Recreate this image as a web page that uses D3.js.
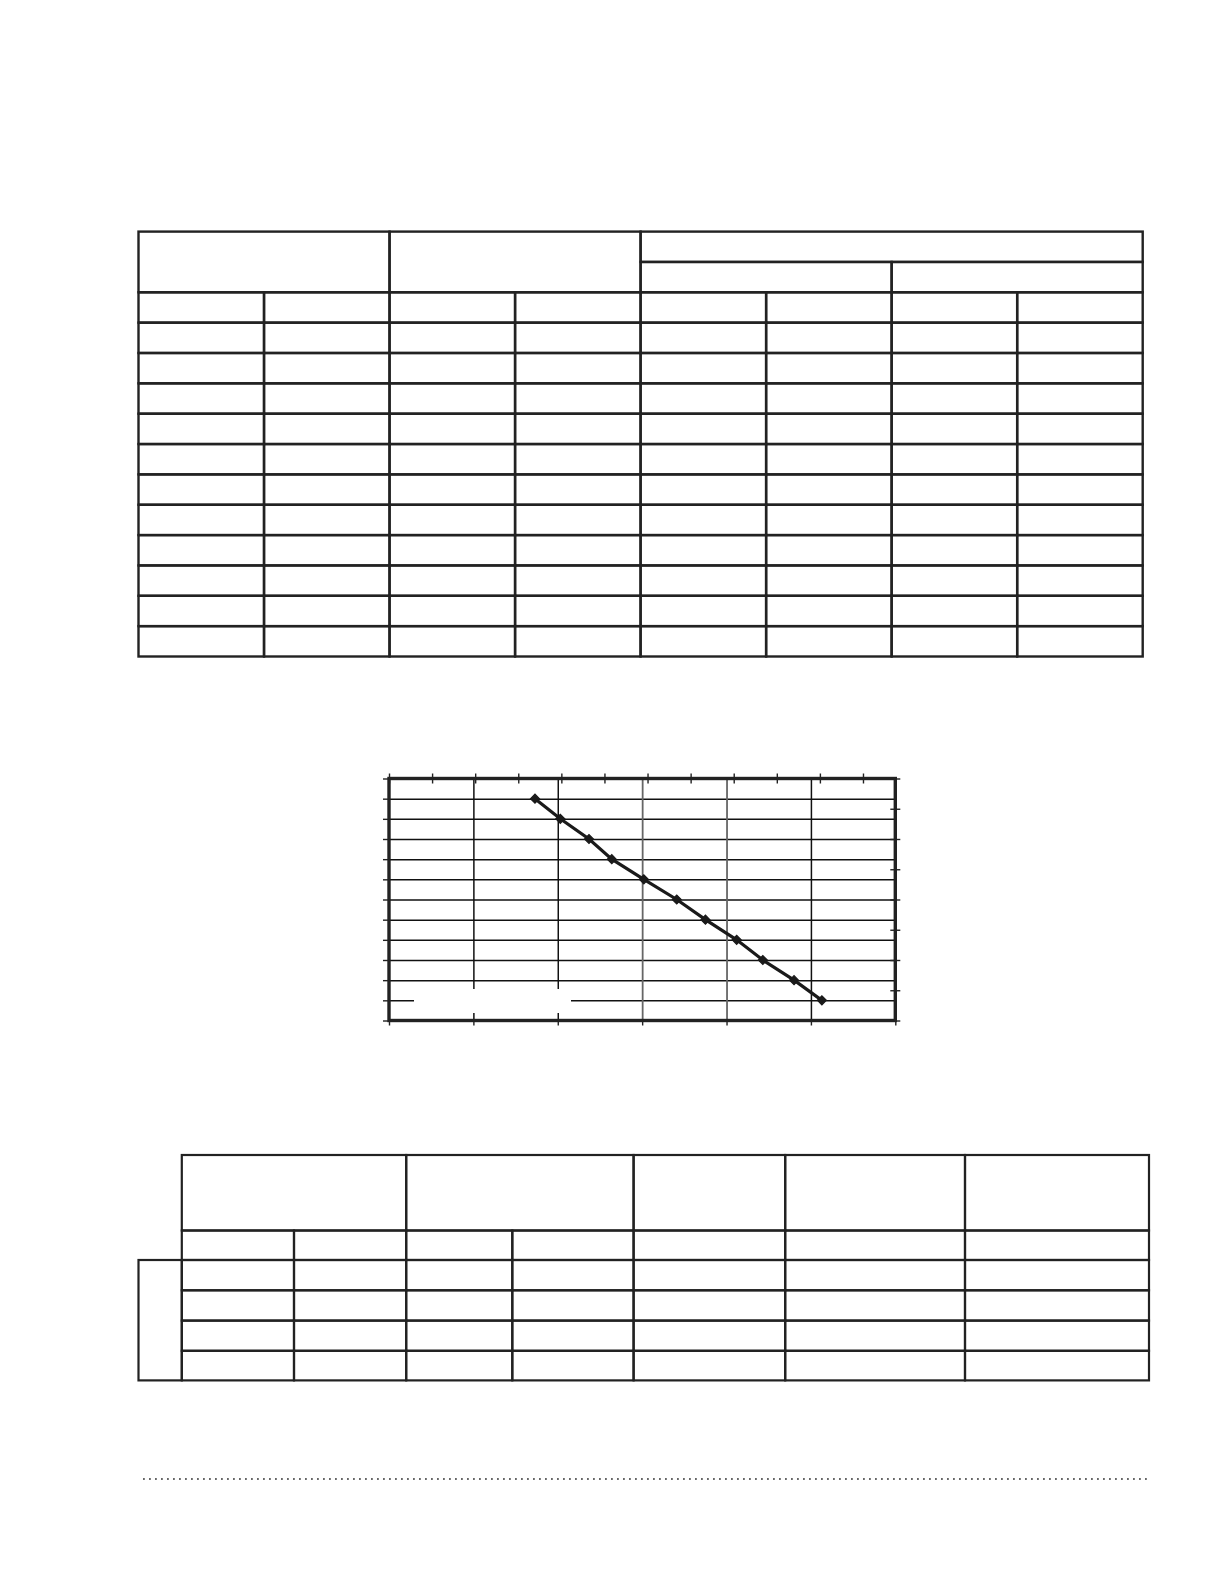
<!DOCTYPE html>
<html lang="en">
<head>
<meta charset="utf-8">
<title>Blank form with chart</title>
<script src="https://d3js.org/d3.v7.min.js"></script>
<style type="text/css">
  html, body { margin: 0; padding: 0; background: #fff; }
  svg { display: block; }
  .tick text { display: none; }
</style>
</head>
<body>
<script type="text/javascript">
// chart values
var xVals = [1.73, 2.03, 2.37, 2.64, 3.02, 3.41, 3.75, 4.12, 4.43, 4.80, 5.13];
var yVals = [11, 10, 9, 8, 7, 6, 5, 4, 3, 2, 1];

// tick values
var bottomTicks = [0, 1, 2, 3, 4, 5, 6];
var leftTicks = [0, 1, 2, 3, 4, 5, 6, 7, 8, 9, 10, 11, 12];
var topTicks = [0, 1, 2, 3, 4, 5, 6, 7, 8, 9, 10, 11];
var rightTicks = [0, 1, 2, 3, 4, 5, 6, 7, 8];
var vGrid = [1, 2, 3, 4, 5];
var vGridGray = [3, 4];
var hGrid = [1, 2, 3, 4, 5, 6, 7, 8, 9, 10, 11];

var w = 1224, h = 1584;
var ink = "#222";

var svg = d3.select("body").append("svg")
  .attr("width", w).attr("height", h);
svg.append("rect").attr("width", w).attr("height", h).attr("fill", "#fff");

// ---------- top table ----------
var t1 = {left: 138.5, right: 1142.7, top: 231.6, bottom: 656.5, cols: 8, rows: 14};
var c1 = d3.scaleLinear([0, t1.cols], [t1.left, t1.right]);
var r1 = d3.scaleLinear([0, t1.rows], [t1.top, t1.bottom]);

var cells1 = [
  {c: 0, r: 0, cs: 2, rs: 2}, {c: 2, r: 0, cs: 2, rs: 2},
  {c: 4, r: 0, cs: 4, rs: 1}, {c: 4, r: 1, cs: 2, rs: 1}, {c: 6, r: 1, cs: 2, rs: 1}
];
d3.range(2, t1.rows).forEach(function(r) {
  d3.range(0, t1.cols).forEach(function(c) { cells1.push({c: c, r: r, cs: 1, rs: 1}); });
});

svg.append("g").selectAll("rect")
  .data(cells1).enter().append("rect")
  .attr("x", function(d) { return c1(d.c); })
  .attr("y", function(d) { return r1(d.r); })
  .attr("width", function(d) { return c1(d.c + d.cs) - c1(d.c); })
  .attr("height", function(d) { return r1(d.r + d.rs) - r1(d.r); })
  .attr("fill", "none").attr("stroke", ink).attr("stroke-width", 2.4);

// ---------- chart ----------
var p = {left: 389, right: 895.3, top: 778.5, bottom: 1020.5};
var x = d3.scaleLinear([0, 6], [p.left, p.right]);
var y = d3.scaleLinear([0, 12], [p.bottom, p.top]);
var xTop = d3.scaleLinear([0, 11.75], [p.left, p.right]);
var yRight = d3.scaleLinear([0, 8], [p.bottom, p.top]);
var pw = p.right - p.left, ph = p.bottom - p.top;

function clean(g, color, width) {
  g.select(".domain").remove();
  g.selectAll(".tick line").attr("stroke", color || ink).attr("stroke-width", width || 1.4);
}

// horizontal gridlines
svg.append("g").attr("transform", "translate(" + p.left + ",0)")
  .call(d3.axisLeft(y).tickValues(hGrid).tickSize(-pw).tickFormat(""))
  .call(clean, "#111", 1.5);

// vertical gridlines
svg.append("g").attr("transform", "translate(0," + p.bottom + ")")
  .call(d3.axisBottom(x).tickValues(vGrid).tickSize(-ph).tickFormat(""))
  .call(clean, "#111", 1.5)
  .selectAll(".tick line")
  .attr("stroke", function(d) { return vGridGray.indexOf(d) >= 0 ? "#666" : "#111"; })
  .attr("stroke-width", function(d) { return vGridGray.indexOf(d) >= 0 ? 1.8 : 1.5; });

// blank patch over the lower grid
svg.append("rect")
  .attr("x", 414).attr("y", 989).attr("width", 157).attr("height", 24)
  .attr("fill", "#fff");

// data line
var line = d3.line()
  .x(function(d, i) { return x(xVals[i]); })
  .y(function(d, i) { return y(yVals[i]); });
svg.append("path").datum(xVals)
  .attr("d", line).attr("fill", "none")
  .attr("stroke", "#1a1a1a").attr("stroke-width", 3.2);

svg.append("g").selectAll("path")
  .data(xVals).enter().append("path")
  .attr("d", d3.symbol().type(d3.symbolSquare).size(40))
  .attr("transform", function(d, i) {
    return "translate(" + x(xVals[i]) + "," + y(yVals[i]) + ") rotate(45)";
  })
  .attr("fill", "#1a1a1a").attr("stroke", "#1a1a1a").attr("stroke-width", 1.2);

// frame
svg.append("rect")
  .attr("x", p.left).attr("y", p.top).attr("width", pw).attr("height", ph)
  .attr("fill", "none").attr("stroke", ink).attr("stroke-width", 3.4);

// ticks
svg.append("g").attr("transform", "translate(0," + p.bottom + ")")
  .call(d3.axisBottom(x).tickValues(bottomTicks).tickSize(5).tickFormat(""))
  .call(clean);
svg.append("g").attr("transform", "translate(" + p.left + ",0)")
  .call(d3.axisLeft(y).tickValues(leftTicks).tickSize(6).tickFormat(""))
  .call(clean);
svg.append("g").attr("transform", "translate(0," + p.top + ")")
  .call(d3.axisTop(xTop).tickValues(topTicks).tickSize(5).tickFormat(""))
  .call(clean);
svg.append("g").attr("transform", "translate(0," + p.top + ")")
  .call(d3.axisBottom(xTop).tickValues(topTicks).tickSize(5).tickFormat(""))
  .call(clean);
svg.append("g").attr("transform", "translate(" + p.right + ",0)")
  .call(d3.axisRight(yRight).tickValues(rightTicks).tickSize(5).tickFormat(""))
  .call(clean);
svg.append("g").attr("transform", "translate(" + p.right + ",0)")
  .call(d3.axisLeft(yRight).tickValues(rightTicks).tickSize(5).tickFormat(""))
  .call(clean);

// ---------- bottom table ----------
var colX = [138.5, 181.8, 294, 406.2, 512.3, 633.6, 785.2, 965, 1149];
var rowY = [1155, 1230.5, 1260, 1290.3, 1320.6, 1350.8, 1380.4];

var cells2 = [
  {c: 1, r: 0, cs: 2, rs: 1}, {c: 3, r: 0, cs: 2, rs: 1}, {c: 5, r: 0, cs: 1, rs: 1},
  {c: 6, r: 0, cs: 1, rs: 1}, {c: 7, r: 0, cs: 1, rs: 1},
  {c: 0, r: 2, cs: 1, rs: 4}
];
d3.range(1, 6).forEach(function(r) {
  d3.range(1, 8).forEach(function(c) { cells2.push({c: c, r: r, cs: 1, rs: 1}); });
});

svg.append("g").selectAll("rect")
  .data(cells2).enter().append("rect")
  .attr("x", function(d) { return colX[d.c]; })
  .attr("y", function(d) { return rowY[d.r]; })
  .attr("width", function(d) { return colX[d.c + d.cs] - colX[d.c]; })
  .attr("height", function(d) { return rowY[d.r + d.rs] - rowY[d.r]; })
  .attr("fill", "none").attr("stroke", ink).attr("stroke-width", 2.2);

// dotted rule at the foot
svg.append("line")
  .attr("x1", 143).attr("x2", 1151).attr("y1", 1479).attr("y2", 1479)
  .attr("stroke", "#666").attr("stroke-width", 1.8)
  .attr("stroke-dasharray", "1.8 4.2");
</script>
</body>
</html>
